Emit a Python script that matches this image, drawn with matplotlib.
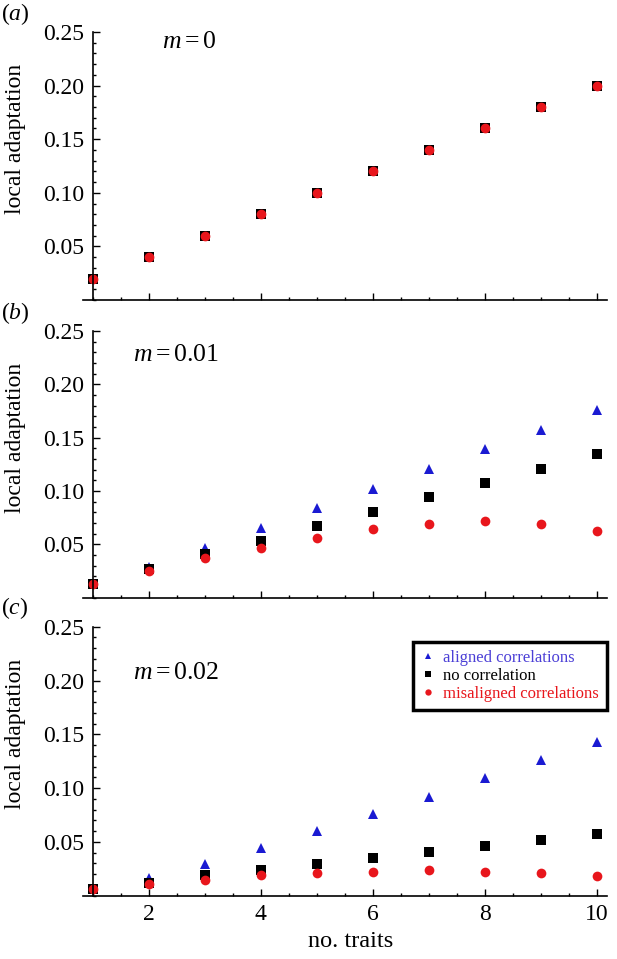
import matplotlib
matplotlib.use('Agg')
import matplotlib.pyplot as plt
from matplotlib.ticker import MultipleLocator

plt.rcParams['font.family'] = ['Liberation Serif', 'DejaVu Serif']
plt.rcParams['mathtext.fontset'] = 'custom'
plt.rcParams['mathtext.rm'] = 'Liberation Serif'
plt.rcParams['mathtext.it'] = 'Liberation Serif:italic'

# number of traits
traits = [1, 2, 3, 4, 5, 6, 7, 8, 9, 10]

# (a) m = 0 : all three cases coincide
a_aligned = [0.02, 0.04, 0.06, 0.08, 0.10, 0.12, 0.14, 0.16, 0.18, 0.20]
a_none = [0.02, 0.04, 0.06, 0.08, 0.10, 0.12, 0.14, 0.16, 0.18, 0.20]
a_mis = [0.02, 0.04, 0.06, 0.08, 0.10, 0.12, 0.14, 0.16, 0.18, 0.20]

# (b) m = 0.01
b_aligned = [0.0128, 0.029, 0.0468, 0.065, 0.084, 0.102, 0.1206, 0.1394, 0.1575, 0.1763]
b_none = [0.0128, 0.027, 0.041, 0.0534, 0.0669, 0.0806, 0.094, 0.1072, 0.1206, 0.1344]
b_mis = [0.0128, 0.025, 0.037, 0.0465, 0.0562, 0.064, 0.0693, 0.0716, 0.0693, 0.0625]

# (c) m = 0.02
c_aligned = [0.0064, 0.0162, 0.0292, 0.0444, 0.0605, 0.0756, 0.092, 0.109, 0.126, 0.143]
c_none = [0.0064, 0.012, 0.019, 0.0243, 0.0296, 0.0352, 0.0407, 0.0466, 0.052, 0.0577]
c_mis = [0.0064, 0.0107, 0.015, 0.019, 0.0212, 0.0224, 0.0237, 0.0224, 0.0215, 0.0187]

panels = [
    ('a', '$m = 0$', a_aligned, a_none, a_mis),
    ('b', '$m = 0.01$', b_aligned, b_none, b_mis),
    ('c', '$m = 0.02$', c_aligned, c_none, c_mis),
]

blue = '#1a1ad2'
red = '#e8161c'

fig = plt.figure(figsize=(6.17, 9.59), dpi=100)
boxes = [(0.1345, 0.6872, 0.8493, 0.2794),
         (0.1345, 0.3768, 0.8493, 0.2780),
         (0.1345, 0.0660, 0.8493, 0.2805)]
m_pos = [(0.15, 0.963), (0.095, 0.91), (0.095, 0.828)]

for i, (tag, mlab, al, no, mis) in enumerate(panels):
    ax = fig.add_axes(boxes[i])
    ax.plot(traits, al, '^', color=blue, ms=7.5, mew=0, label='aligned correlations', clip_on=False)
    ax.plot(traits, no, 's', color='black', ms=7.5, mew=0, label='no correlation', clip_on=False)
    ax.plot(traits, mis, 'o', color=red, ms=7, mew=0, label='misaligned correlations', clip_on=False)

    ax.set_xlim(0.83, 10.18)
    ax.set_ylim(0, 0.25)
    ax.spines['top'].set_visible(False)
    ax.spines['right'].set_visible(False)
    ax.spines['left'].set_position(('data', 1))
    ax.spines['bottom'].set_position(('data', 0))
    for s in ('left', 'bottom'):
        ax.spines[s].set_linewidth(1.2)

    ax.xaxis.set_major_locator(MultipleLocator(2))
    ax.xaxis.set_minor_locator(MultipleLocator(0.5))
    ax.set_yticks([0.05, 0.10, 0.15, 0.20, 0.25])
    ax.set_yticklabels(['0.05', '0.10', '0.15', '0.20', '0.25'])
    ax.yaxis.set_minor_locator(MultipleLocator(0.01))
    ax.tick_params(which='both', direction='in', width=1, labelsize=17)
    ax.tick_params(which='major', length=5, pad=6)
    ax.tick_params(which='minor', length=2.5)
    if tag != 'c':
        ax.tick_params(axis='x', labelbottom=False)

    ax.set_ylabel('local adaptation', fontsize=17)
    ax.yaxis.set_label_coords(-0.108, 0.6)
    ax.text(m_pos[i][0], m_pos[i][1], mlab, transform=ax.transAxes, fontsize=18.5,
            ha='left', va='center')
    fig.text(0.002, boxes[i][1] + boxes[i][3] + 0.019, '($' + tag + '$)', fontsize=17,
             ha='left', va='center')

    if tag == 'c':
        ax.set_xlabel('no. traits', fontsize=17.5)
        ax.xaxis.set_label_coords(0.51, -0.13)
        leg = ax.legend(loc='upper right', bbox_to_anchor=(1.0, 0.945), borderaxespad=0,
                        fancybox=False, edgecolor='black', fontsize=12, markerscale=0.65,
                        handlelength=0.8, handletextpad=0.5, labelspacing=0.12,
                        borderpad=0.5, framealpha=1)
        leg.get_frame().set_linewidth(2.5)
        for t, c in zip(leg.get_texts(), ['#4b3fd6', 'black', red]):
            t.set_color(c)

fig.savefig('out.png', dpi=100)
